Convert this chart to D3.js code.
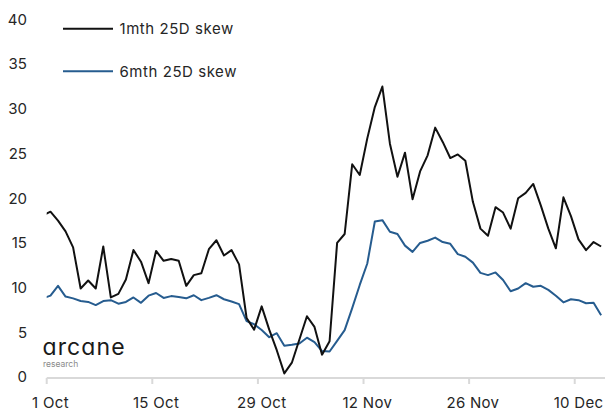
<!DOCTYPE html>
<html>
<head>
<meta charset="utf-8">
<script src="https://cdn.jsdelivr.net/npm/d3@7"></script>
<style>
  body { margin: 0; background: #fff; }
  svg { display: block; font-family: Inter, "Noto Sans", sans-serif; }
</style>
</head>
<body>
<svg id="chart"></svg>
<script>
// daily values, 30 Sep .. 13 Dec (30 Sep only shows as the clipped lead-in)
const startDay = new Date(2021, 8, 30);
const skew1m = [
  18.1,
  18.5, 17.5, 16.3, 14.5, 9.9, 10.8, 9.9, 14.6, 8.9, 9.3,
  10.9, 14.2, 12.9, 10.5, 14.1, 13.0, 13.2, 13.0, 10.2, 11.4,
  11.6, 14.3, 15.3, 13.6, 14.2, 12.6, 6.6, 5.3, 7.9, 5.3, 3.0,
  0.4, 1.6, 4.2, 6.8, 5.6, 2.5, 4.0, 15.0, 16.0, 23.8,
  22.6, 26.7, 30.2, 32.5, 26.1, 22.4, 25.1, 19.9, 23.0, 24.8,
  27.9, 26.3, 24.5, 24.9, 24.2, 19.6, 16.6, 15.8, 19.0, 18.4,
  16.6, 20.0, 20.6, 21.6, 19.2, 16.6, 14.4, 20.1, 18.0, 15.4,
  14.2, 15.1, 14.6
];
const skew6m = [
  8.8,
  9.1, 10.2, 9.0, 8.8, 8.5, 8.4, 8.05, 8.5, 8.6, 8.2,
  8.4, 8.9, 8.3, 9.1, 9.4, 8.85, 9.05, 8.95, 8.8, 9.15,
  8.6, 8.85, 9.15, 8.7, 8.45, 8.15, 6.25, 5.9, 5.25, 4.45, 4.9,
  3.5, 3.6, 3.75, 4.4, 3.9, 2.9, 2.85, 4.05, 5.25, 7.7,
  10.3, 12.7, 17.4, 17.55, 16.25, 16.0, 14.7, 14.0, 15.0, 15.25,
  15.6, 15.1, 14.9, 13.75, 13.45, 12.8, 11.65, 11.4, 11.7, 10.85,
  9.6, 9.9, 10.5, 10.1, 10.2, 9.75, 9.1, 8.35, 8.7, 8.6,
  8.25, 8.3, 6.9
];
const seriesNames = ["1mth 25D skew", "6mth 25D skew"];
const seriesColours = ["#111111", "#265c8f"];
const tickDates = [
  new Date(2021, 9, 1), new Date(2021, 9, 15), new Date(2021, 9, 29),
  new Date(2021, 10, 12), new Date(2021, 10, 26), new Date(2021, 11, 10)
];
const yTicks = [0, 5, 10, 15, 20, 25, 30, 35, 40];

const W = 605, H = 411;
const days = skew1m.map((v, i) => d3.timeHour.offset(d3.timeDay.offset(startDay, i), 12));

const svg = d3.select("#chart").attr("width", W).attr("height", H);

const x = d3.scaleTime()
  .domain([new Date(2021, 9, 1), new Date(2021, 11, 14)])
  .range([46.7, 604.9]);
const y = d3.scaleLinear().domain([0, 40]).range([377, 19.5]);

svg.append("clipPath").attr("id", "plot")
  .append("rect")
  .attr("x", x.range()[0]).attr("y", 0)
  .attr("width", x.range()[1] - x.range()[0]).attr("height", H);

// y labels (no axis line)
svg.append("g")
  .selectAll("text")
  .data(yTicks)
  .enter()
  .append("text")
  .attr("x", 27)
  .attr("y", d => y(d))
  .attr("dy", "0.35em")
  .attr("text-anchor", "end")
  .attr("font-size", 15)
  .attr("fill", "#262626")
  .text(d => d);

// x axis: ticks on day boundaries, labels centred on the day
const xAxis = svg.append("g");
xAxis.append("line")
  .attr("x1", x.range()[0]).attr("x2", W)
  .attr("y1", 378).attr("y2", 378)
  .attr("stroke", "#d9d9d9").attr("stroke-width", 2);
xAxis.selectAll(".tk")
  .data(tickDates)
  .enter()
  .append("line")
  .attr("x1", d => x(d)).attr("x2", d => x(d))
  .attr("y1", 378).attr("y2", 384)
  .attr("stroke", "#d9d9d9").attr("stroke-width", 2);
xAxis.selectAll("text")
  .data(tickDates)
  .enter()
  .append("text")
  .attr("x", d => x(d3.timeHour.offset(d, 12)))
  .attr("y", 403)
  .attr("dy", "0.35em")
  .attr("text-anchor", "middle")
  .attr("font-size", 15)
  .attr("letter-spacing", 0.3)
  .attr("fill", "#262626")
  .text(d3.timeFormat("%-d %b"));

// lines
const line = d3.line().x((d, i) => x(days[i])).y(d => y(d));
const plot = svg.append("g").attr("clip-path", "url(#plot)");
[skew6m, skew1m].forEach((s, k) => {
  plot.append("path")
    .datum(s)
    .attr("d", line)
    .attr("fill", "none")
    .attr("stroke", seriesColours[1 - k])
    .attr("stroke-width", 2)
    .attr("stroke-linejoin", "round");
});

// legend
const legend = svg.append("g");
seriesNames.forEach((name, i) => {
  const ly = 28.7 + i * 42.6;
  legend.append("line")
    .attr("x1", 63).attr("x2", 113).attr("y1", ly).attr("y2", ly)
    .attr("stroke", seriesColours[i]).attr("stroke-width", 2);
  legend.append("text")
    .attr("x", 119.5).attr("y", ly).attr("dy", "0.35em")
    .attr("font-size", 15).attr("letter-spacing", 0.55)
    .attr("fill", "#262626")
    .text(name);
});

// logo
svg.append("text")
  .attr("x", 42.5).attr("y", 355)
  .attr("font-size", 23).attr("font-weight", 400)
  .attr("letter-spacing", 1.1)
  .style("font-feature-settings", "'cv11' 1")
  .attr("fill", "#1a1a1a")
  .text("arcane");
svg.append("text")
  .attr("x", 43).attr("y", 366.5)
  .attr("font-size", 8.5).attr("fill", "#8a8a8a")
  .text("research");
</script>
</body>
</html>
